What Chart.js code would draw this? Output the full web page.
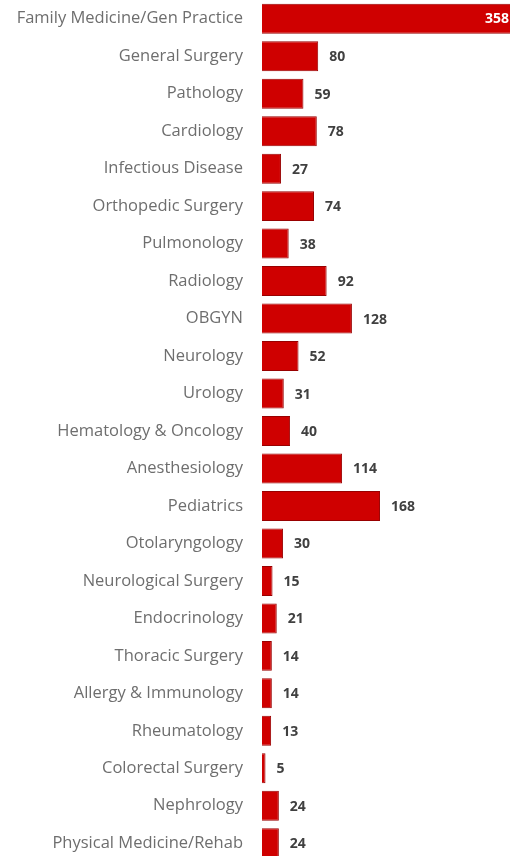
<!DOCTYPE html>
<html>
<head>
<meta charset="utf-8">
<script src="https://cdn.jsdelivr.net/npm/chart.js@4.4.0/dist/chart.umd.min.js"></script>
<style>
  html, body { margin: 0; padding: 0; background: #ffffff; overflow: hidden; }
  #wrap { width: 510px; height: 862px; }
</style>
</head>
<body>
<div id="wrap"><canvas id="c"></canvas></div>
<script>
const specialties = [
  "Family Medicine/Gen Practice", "General Surgery", "Pathology", "Cardiology",
  "Infectious Disease", "Orthopedic Surgery", "Pulmonology", "Radiology", "OBGYN",
  "Neurology", "Urology", "Hematology & Oncology", "Anesthesiology", "Pediatrics",
  "Otolaryngology", "Neurological Surgery", "Endocrinology", "Thoracic Surgery",
  "Allergy & Immunology", "Rheumatology", "Colorectal Surgery", "Nephrology",
  "Physical Medicine/Rehab"
];
const counts = [358, 80, 59, 78, 27, 74, 38, 92, 128, 52, 31, 40, 114, 168, 30, 15, 21, 14, 14, 13, 5, 24, 24];

// Writes each bar's count beside it; a bar running past the plot edge gets its count inside, in white.
const valueLabels = {
  id: 'valueLabels',
  afterDatasetsDraw(chart) {
    const ctx = chart.ctx;
    const area = chart.chartArea;
    const meta = chart.getDatasetMeta(0);
    ctx.save();
    ctx.font = 'bold 14px "Open Sans", sans-serif';
    ctx.textBaseline = 'middle';
    meta.data.forEach((bar, i) => {
      const txt = String(counts[i]);
      if (bar.x + 40 > area.right) {
        ctx.fillStyle = '#ffffff';
        ctx.textAlign = 'right';
        ctx.fillText(txt, area.right - 1, bar.y);
      } else {
        ctx.fillStyle = '#404040';
        ctx.textAlign = 'left';
        ctx.fillText(txt, bar.x + 11, bar.y + 1);
      }
    });
    ctx.restore();
  }
};

new Chart(document.getElementById('c'), {
  type: 'bar',
  data: {
    labels: specialties,
    datasets: [{
      data: counts,
      backgroundColor: '#cf0000',
      borderColor: '#980000',
      borderWidth: 1,
      barPercentage: 0.8,
      categoryPercentage: 1.0
    }]
  },
  options: {
    indexAxis: 'y',
    responsive: true,
    maintainAspectRatio: false,
    animation: false,
    layout: { padding: 0 },
    plugins: { legend: { display: false }, tooltip: { enabled: false } },
    scales: {
      x: { display: false, min: 0, max: 353 },
      y: {
        grid: { display: false, drawTicks: false },
        border: { display: false },
        ticks: {
          color: '#6e6e6e',
          padding: 19,
          autoSkip: false,
          font: { family: '"Open Sans", sans-serif', size: 16.5 }
        },
        afterFit(scale) {
          scale.width = 262;
          scale.paddingTop = 0;
          scale.paddingBottom = 0;
        }
      }
    }
  },
  plugins: [valueLabels]
});
</script>
</body>
</html>
